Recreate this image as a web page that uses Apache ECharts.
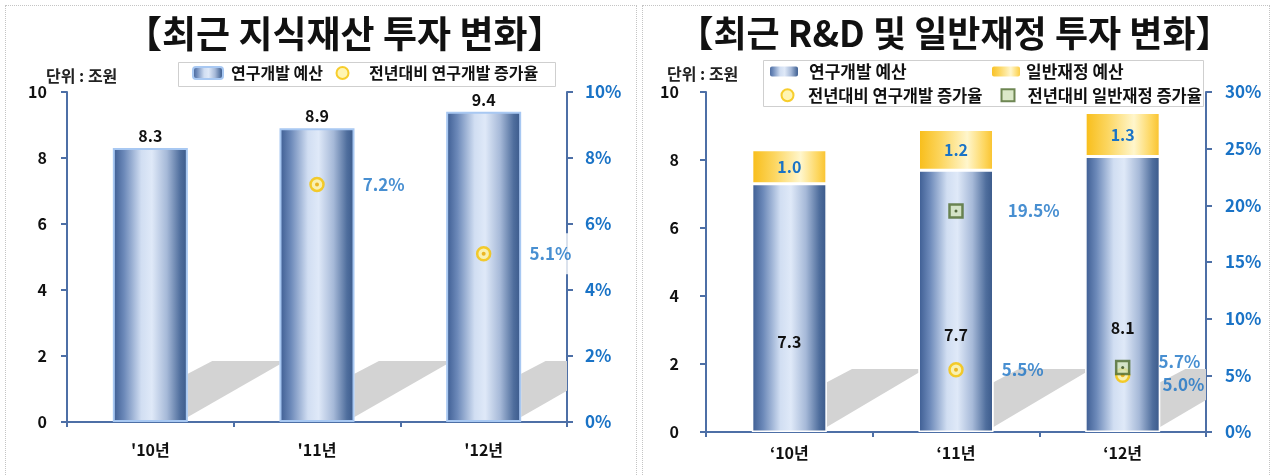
<!DOCTYPE html>
<html>
<head>
<meta charset="utf-8">
<script src="https://cdn.jsdelivr.net/npm/echarts@6/dist/echarts.min.js"></script>
<style>
  html, body { margin: 0; padding: 0; background: #fff; }
  body { width: 1273px; height: 475px; position: relative; overflow: hidden; }
  .frame { position: absolute; top: 5px; height: 520px; border: 1px dotted #c4c4c4; }
  .chart { position: absolute; top: 0; height: 475px; }
</style>
</head>
<body>
<div class="frame" style="left:5px; width:630px;"></div>
<div class="frame" style="left:642px; width:626px;"></div>
<div id="chartLeft" class="chart" style="left:0; width:636px;"></div>
<div id="chartRight" class="chart" style="left:636px; width:637px;"></div>

<script>
// ---- data ----
const years1 = ["'10년", "'11년", "'12년"];
const rdBudget1 = [8.3, 8.9, 9.4];          // 연구개발 예산 (조원)
const rdGrowth1 = ['-', 7.2, 5.1];          // 전년대비 연구개발 증가율 (%)

const years2 = ['‘10년', '‘11년', '‘12년'];
const rdBudget2 = [7.3, 7.7, 8.1];          // 연구개발 예산
const generalBudget2 = [1.0, 1.2, 1.3];     // 일반재정 예산
const rdGrowth2 = ['-', 5.5, 5.0];          // 전년대비 연구개발 증가율
const generalGrowth2 = ['-', 19.5, 5.7];    // 전년대비 일반재정 증가율

const FONT = "'Noto Sans CJK KR', 'Noto Sans', sans-serif";
const BLUE_TXT = '#1a73c6';
const AXIS_CLR = '#4d6fa6';
const SHADOW_UNITS = 1.85;

// cylinder-ish gradients
const blueBar = new echarts.graphic.LinearGradient(0, 0, 1, 0, [
  { offset: 0, color: '#3b5b91' },
  { offset: 0.15, color: '#6c89b9' },
  { offset: 0.38, color: '#d1def2' },
  { offset: 0.52, color: '#dfe9f8' },
  { offset: 0.72, color: '#a6b9d8' },
  { offset: 0.9, color: '#4f6e9d' },
  { offset: 1, color: '#395889' }
]);
const yellowBar = new echarts.graphic.LinearGradient(0, 0, 1, 0, [
  { offset: 0, color: '#f8bd18' },
  { offset: 0.3, color: '#fcd660' },
  { offset: 0.65, color: '#fff6cc' },
  { offset: 0.88, color: '#fdd65e' },
  { offset: 1, color: '#f9c12a' }
]);

// gray floor shadow behind every bar (decoration)
function shadowItem(params, api) {
  const base = api.coord([api.value(0), 0]);
  const top = api.coord([api.value(0), SHADOW_UNITS])[1];
  const catW = api.size([1, 0])[0];
  const barW = catW * 0.45;
  const r = base[0] + barW / 2;
  const nextL = base[0] + catW - barW / 2;
  const h = base[1] - top;
  const cs = params.coordSys;
  return {
    type: 'polygon',
    shape: {
      points: [
        [r, base[1] - 0.08 * h],
        [r, base[1] - 0.79 * h],
        [r + 0.4 * h, top],
        [nextL, top],
        [nextL, top + 0.06 * h]
      ]
    },
    style: { fill: '#d3d3d3' },
    clipPath: { type: 'rect', shape: { x: cs.x, y: cs.y, width: cs.width, height: cs.height } }
  };
}

function yAxisBase(extra) {
  return Object.assign({
    type: 'value',
    splitLine: { show: false },
    axisLine: { show: true, lineStyle: { color: AXIS_CLR, width: 2 } },
    axisTick: { show: true, inside: false, length: 6, lineStyle: { color: AXIS_CLR, width: 2 } }
  }, extra);
}

function circleMarker(name, data, labelDist, offsets, bg) {
  return [{
    name: name,
    type: 'scatter',
    yAxisIndex: 1,
    z: 5,
    symbol: 'circle',
    symbolSize: 13,
    itemStyle: { color: '#fff3a0', borderColor: '#f5c200', borderWidth: 2.5 },
    label: {
      show: true, position: 'right', distance: labelDist,
      color: BLUE_TXT, fontSize: 17, fontWeight: 'bold', fontFamily: FONT,
      backgroundColor: bg ? '#fff' : 'transparent', padding: bg ? [12, 3] : 0,
      formatter: p => p.value.toFixed(1) + '%'
    },
    data: data.map((v, i) => offsets && offsets[i] ? { value: v, label: { offset: offsets[i] } } : v)
  }, {
    type: 'scatter', yAxisIndex: 1, z: 6, silent: true,
    symbolSize: 4, itemStyle: { color: '#e7a800' },
    data: data
  }];
}

function squareMarker(name, data, labelDist, offsets) {
  return [{
    name: name,
    type: 'scatter',
    yAxisIndex: 1,
    z: 7,
    symbol: 'rect',
    symbolSize: 13,
    itemStyle: { color: '#d2e2bc', borderColor: '#4e6a2e', borderWidth: 2.5 },
    label: {
      show: true, position: 'right', distance: labelDist,
      color: BLUE_TXT, fontSize: 17, fontWeight: 'bold', fontFamily: FONT,
      formatter: p => p.value.toFixed(1) + '%'
    },
    data: data.map((v, i) => offsets && offsets[i] ? { value: v, label: { offset: offsets[i] } } : v)
  }, {
    type: 'scatter', yAxisIndex: 1, z: 8, silent: true,
    symbolSize: 3, itemStyle: { color: '#334a1c' },
    data: data
  }];
}

// one legend entry placed by hand (legend rows in the source are hand aligned)
function legendItem(name, left, top, iconW, textPad, fontSize) {
  return {
    left: left, top: top, padding: 0,
    itemWidth: iconW, itemHeight: 12,
    textStyle: { fontSize: fontSize, fontWeight: 'bold', color: '#111', fontFamily: FONT, padding: [0, 0, 0, textPad] },
    data: [name]
  };
}

// ---------- left : 최근 지식재산 투자 변화 ----------
const leftChart = echarts.init(document.getElementById('chartLeft'));
const leftOption = {
  animation: false,
  textStyle: { fontFamily: FONT },
  title: [
    { text: '【최근 지식재산 투자 변화】', left: 120, top: 10,
      textStyle: { fontSize: 37, fontWeight: 'bold', color: '#111', fontFamily: FONT } },
    { text: '단위 : 조원', left: 41, top: 63,
      textStyle: { fontSize: 16, fontWeight: 'bold', color: '#222', fontFamily: FONT } }
  ],
  graphic: [
    { type: 'rect', left: 178, top: 62, z: 0,
      shape: { width: 377, height: 24 },
      style: { fill: '#fff', stroke: '#cfcfcf', lineWidth: 1 } }
  ],
  legend: [
    legendItem('연구개발 예산', 192, 65, 30, 3, 16),
    legendItem('전년대비 연구개발 증가율', 335.5, 65, 13, 15, 16)
  ],
  grid: { left: 67, right: 69, top: 92, bottom: 53 },
  xAxis: {
    type: 'category',
    data: years1,
    axisLine: { lineStyle: { color: AXIS_CLR, width: 2 } },
    axisTick: { show: true, length: 5, lineStyle: { color: AXIS_CLR, width: 2 } },
    axisLabel: { margin: 20, fontSize: 16, fontWeight: 'bold', color: '#111', fontFamily: FONT }
  },
  yAxis: [
    yAxisBase({ min: 0, max: 10, interval: 2,
      axisLabel: { margin: 20, fontSize: 16, fontWeight: 'bold', color: '#111', fontFamily: FONT } }),
    yAxisBase({ min: 0, max: 10, interval: 2, position: 'right',
      axisLabel: { margin: 18, fontSize: 17, fontWeight: 'bold', color: BLUE_TXT, fontFamily: FONT,
        formatter: '{value}%' } })
  ],
  series: [
    { type: 'custom', z: 1, silent: true, renderItem: shadowItem,
      data: years1.map((c, i) => [i]), encode: { x: 0 } },
    {
      name: '연구개발 예산',
      type: 'bar',
      z: 2,
      barWidth: '45%',
      itemStyle: { color: blueBar, borderColor: '#a8c8f2', borderWidth: 2 },
      label: { show: true, position: 'top', distance: 4, fontSize: 16, fontWeight: 'bold', color: '#111',
        fontFamily: FONT, formatter: p => p.value.toFixed(1) },
      data: rdBudget1
    }
  ].concat(circleMarker('전년대비 연구개발 증가율', rdGrowth1, 35, null, true))
};
leftChart.setOption(leftOption);

// ---------- right : 최근 R&D 및 일반재정 투자 변화 ----------
const rightChart = echarts.init(document.getElementById('chartRight'));
const rightOption = {
  animation: false,
  textStyle: { fontFamily: FONT },
  title: [
    { text: '【최근 R&D 및 일반재정 투자 변화】', left: 'center', top: 10,
      textStyle: { fontSize: 36, fontWeight: 'bold', color: '#111', fontFamily: FONT } },
    { text: '단위 : 조원', left: 26, top: 61,
      textStyle: { fontSize: 16, fontWeight: 'bold', color: '#222', fontFamily: FONT } }
  ],
  graphic: [
    { type: 'rect', left: 127, top: 60, z: 0,
      shape: { width: 440, height: 46 },
      style: { fill: '#fff', stroke: '#cfcfcf', lineWidth: 1 } }
  ],
  legend: [
    legendItem('연구개발 예산', 132, 63, 30, 5, 17),
    legendItem('일반재정 예산', 354, 63, 30, 0, 17),
    legendItem('전년대비 연구개발 증가율', 144.5, 87, 13, 9, 16.5),
    legendItem('전년대비 일반재정 증가율', 364.5, 87, 13, 8, 16.5)
  ],
  grid: { left: 70, right: 67, top: 92, bottom: 43 },
  xAxis: {
    type: 'category',
    data: years2,
    axisLine: { lineStyle: { color: AXIS_CLR, width: 2 } },
    axisTick: { show: true, length: 5, lineStyle: { color: AXIS_CLR, width: 2 } },
    axisLabel: { margin: 13, fontSize: 16, fontWeight: 'bold', color: '#111', fontFamily: FONT }
  },
  yAxis: [
    yAxisBase({ min: 0, max: 10, interval: 2,
      axisLabel: { margin: 27, fontSize: 16, fontWeight: 'bold', color: '#111', fontFamily: FONT } }),
    yAxisBase({ min: 0, max: 30, interval: 5, position: 'right',
      axisLabel: { margin: 19, fontSize: 17, fontWeight: 'bold', color: BLUE_TXT, fontFamily: FONT,
        formatter: '{value}%' } })
  ],
  series: [
    { type: 'custom', z: 1, silent: true, renderItem: shadowItem,
      data: years2.map((c, i) => [i]), encode: { x: 0 } },
    {
      name: '연구개발 예산',
      type: 'bar',
      stack: 'budget',
      z: 2,
      barWidth: '45%',
      itemStyle: { color: blueBar, borderColor: '#ffffff', borderWidth: 1.5 },
      label: { show: true, position: 'inside', offset: [0, 34], fontSize: 16, fontWeight: 'bold', color: '#111',
        fontFamily: FONT, formatter: p => p.value.toFixed(1) },
      data: rdBudget2
    },
    {
      name: '일반재정 예산',
      type: 'bar',
      stack: 'budget',
      z: 2,
      barWidth: '45%',
      itemStyle: { color: yellowBar, borderColor: '#ffffff', borderWidth: 1.5 },
      label: { show: true, position: 'inside', fontSize: 16, fontWeight: 'bold', color: BLUE_TXT,
        fontFamily: FONT, formatter: p => p.value.toFixed(1) },
      data: generalBudget2
    }
  ]
    .concat(circleMarker('전년대비 연구개발 증가율', rdGrowth2, 38, [null, null, [-6, 9]], false))
    .concat(squareMarker('전년대비 일반재정 증가율', generalGrowth2, 40, [null, [4, 0], [-12, -6]]))
};
rightChart.setOption(rightOption);
</script>
</body>
</html>
